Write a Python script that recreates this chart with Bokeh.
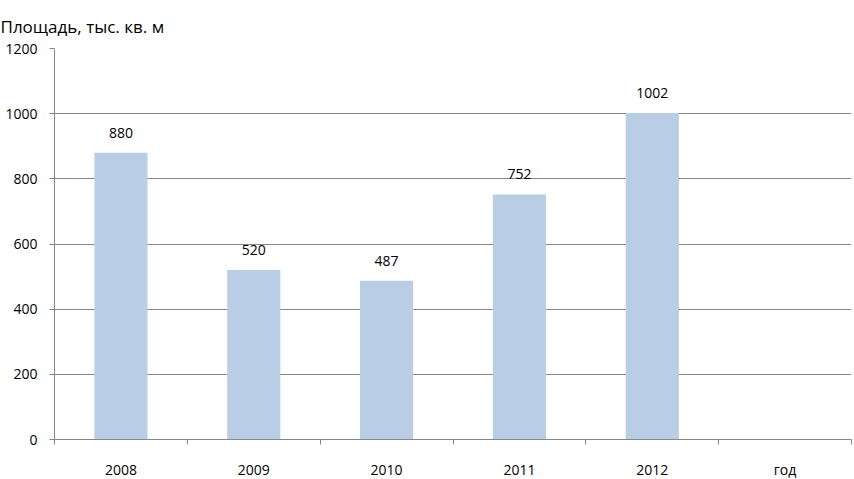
from bokeh.plotting import figure
from bokeh.models import ColumnDataSource, FixedTicker, LabelSet, Range1d, Title
from bokeh.core.properties import value
from bokeh.embed import file_html
from bokeh.resources import INLINE

categories = ["2008", "2009", "2010", "2011", "2012", "год"]
years = ["2008", "2009", "2010", "2011", "2012"]
values = [880, 520, 487, 752, 1002]
y_ticks = [0, 200, 400, 600, 800, 1000, 1200]
title_text = "Площадь, тыс. кв. м"

FONT = "Open Sans"
GRAY = "#868686"

xpos = [categories.index(y) + 0.5 for y in years]
src = ColumnDataSource(dict(x=xpos, top=values, label=[str(v) for v in values]))

p = figure(width=852, height=479, output_backend="svg", toolbar_location=None,
           x_range=Range1d(0, len(categories)), y_range=Range1d(0, 1200),
           min_border_left=54, min_border_right=1, min_border_top=48, min_border_bottom=40)
p.frame_width = 797
p.frame_height = 391

t = Title(text=title_text, text_font=FONT, text_font_size="17px",
          text_font_style="normal", text_color="#000000", align="left",
          offset=-54, standoff=22)
p.add_layout(t, "above")

p.vbar(x="x", top="top", width=0.4, source=src, fill_color="#B9CDE5", line_color=None)

labels = LabelSet(x="x", y="top", text="label", source=src, text_align="center",
                  text_baseline="bottom", y_offset=15, text_font=value(FONT),
                  text_font_size=value("14px"), text_color="#000000")
p.add_layout(labels)

p.xaxis.ticker = FixedTicker(ticks=[i + 0.5 for i in range(len(categories))],
                             minor_ticks=list(range(len(categories) + 1)))
p.xaxis.major_label_overrides = {i + 0.5: c for i, c in enumerate(categories)}
p.xaxis.major_tick_in = 0
p.xaxis.major_tick_out = 0
p.xaxis.minor_tick_in = 0
p.xaxis.minor_tick_out = 5
p.xaxis.minor_tick_line_color = GRAY
p.xaxis.axis_line_color = GRAY
p.xaxis.major_label_standoff = 15
p.xaxis.major_label_text_font = FONT
p.xaxis.major_label_text_font_size = "14px"
p.xaxis.major_label_text_color = "#000000"

p.yaxis.ticker = FixedTicker(ticks=y_ticks)
p.yaxis.minor_tick_line_color = None
p.yaxis.major_tick_in = 0
p.yaxis.major_tick_out = 5
p.yaxis.major_tick_line_color = GRAY
p.yaxis.axis_line_color = GRAY
p.yaxis.major_label_standoff = 12
p.yaxis.major_label_text_font = FONT
p.yaxis.major_label_text_font_size = "14px"
p.yaxis.major_label_text_color = "#000000"

p.xgrid.grid_line_color = None
p.ygrid.grid_line_color = GRAY
p.ygrid.ticker = FixedTicker(ticks=y_ticks)
p.outline_line_color = None

open("out.html", "w").write(file_html(p, INLINE))
